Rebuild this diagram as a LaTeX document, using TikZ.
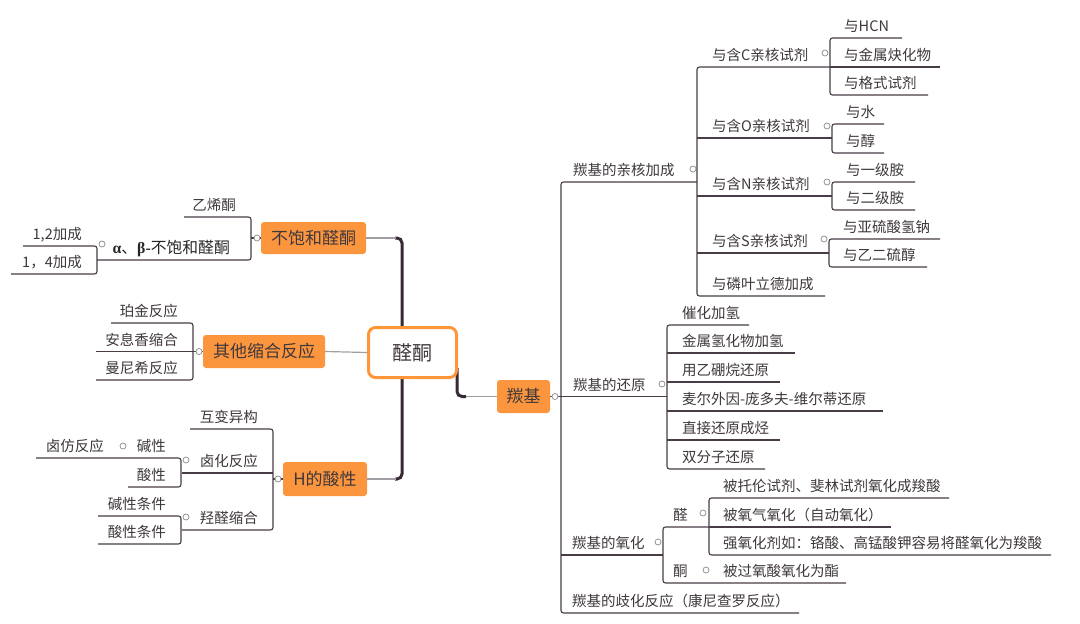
\documentclass[tikz,border=0pt]{standalone}
\usepackage{fontspec}
\setmainfont{Noto Sans CJK SC}
\newfontfamily\lserif{Liberation Serif}
\definecolor{org}{RGB}{252,150,62}
\definecolor{orgb}{RGB}{255,150,55}
\definecolor{txt}{RGB}{62,55,60}
\definecolor{lnc}{RGB}{72,60,70}
\definecolor{trk}{RGB}{55,42,52}
\definecolor{gry}{RGB}{160,158,162}
\definecolor{dotc}{RGB}{140,140,140}
\begin{document}
\begin{tikzpicture}[x=1pt,y=-1pt,
  lf/.style={font=\fontsize{14.5}{16}\selectfont, text=txt, inner sep=0pt},
  rl/.style={lf, anchor=base west},
  ll/.style={lf, anchor=base east},
  ln/.style={draw=lnc, line width=1.1pt, rounded corners=2.5pt},
  trunk/.style={draw=trk, line width=3pt, rounded corners=5pt},
  thin/.style={draw=gry, line width=1.2pt},
  mainbox/.style={fill=org, rounded corners=3pt, text=txt, font=\fontsize{17}{20}\selectfont, inner sep=0pt},
  dot/.style={circle, draw=dotc, fill=white, line width=0.7pt, minimum size=6pt, inner sep=0pt},
]
\useasboundingbox (0,0) rectangle (1080,624);

% trunks
\draw[trunk] (395,238) -- (402,238) -- (402,479) -- (395,479);
\draw[trunk] (457,368) -- (457,396.5) -- (466,396.5);

% main nodes
\node[draw=orgb, line width=3pt, fill=white, rounded corners=7pt, minimum width=88pt, minimum height=50pt, inner sep=0pt, font=\fontsize{20}{24}\selectfont, text=txt] (zq) at (412.5,352.5) {醛酮};
\node[mainbox, minimum width=105pt, minimum height=32pt] (bu) at (313.5,238) {不饱和醛酮};
\node[mainbox, minimum width=122pt, minimum height=33pt] (qt) at (264,351.5) {其他缩合反应};
\node[mainbox, minimum width=84pt, minimum height=34pt] (hs) at (325,479) {H的酸性};
\node[mainbox, minimum width=53pt, minimum height=33pt] (ts) at (523.5,396.5) {羰基};

\draw[thin] (bu.east) -- (396,238);
\draw[thin] (hs.east) -- (396,479);
\draw[thin] (qt.east) -- (zq.west);
\draw[thin] (466,396.5) -- (ts.west);

% ---------- left: 不饱和醛酮
\draw[ln] (bu.west) -- (251,238);
\draw[ln] (184,217) -- (251,217) -- (251,260) -- (97,260);
\draw[ln] (23,246) -- (97,246) -- (97,274) -- (11,274);
\node[ll] (yxt) at (236,210.5) {乙烯酮};
\node[ll, font=\fontsize{15.8}{18}\selectfont, text=black!85] (ab) at (230,253.5) {{\lserif\bfseries α}、{\lserif\bfseries β-}不饱和醛酮};
\node[ll] (a12) at (82,239.5) {1,2加成};
\node[ll] (a14) at (82,267.5) {1，4加成};
\node[dot] (d1) at (257,238) {};
\node[dot] (d2) at (102,244) {};

% ---------- left: 其他缩合反应
\draw[ln] (qt.west) -- (193,351.5);
\draw[ln] (111,323) -- (193,323) -- (193,380) -- (96,380);
\draw[ln] (96,351.5) -- (193,351.5);
\node[ll] (pj) at (178,316.5) {珀金反应};
\node[ll] (ax) at (178,345) {安息香缩合};
\node[ll] (mn) at (178,373.5) {曼尼希反应};
\node[dot] (d3) at (199,351.5) {};

% ---------- left: H的酸性
\draw[ln] (hs.west) -- (273,479);
\draw[ln] (190,429) -- (273,429) -- (273,530) -- (182,530);
\draw[ln] (182,473) -- (273,473);
\node[ll] (hb) at (258,422.5) {互变异构};
\node[ll] (lh) at (258,466.5) {卤化反应};
\node[ll] (qq) at (258,523.5) {羟醛缩合};
\node[dot] (d4) at (278,479) {};
% 卤化反应
\draw[ln] (36,458) -- (181,458) -- (181,487) -- (128,487);
\node[dot] (d5) at (186,460) {};
\node[ll] (jx) at (166,451.5) {碱性};
\node[ll] (sx) at (166,480.5) {酸性};
\node[dot] (d6) at (123,446) {};
\node[ll] (lf) at (104,451.5) {卤仿反应};
% 羟醛缩合
\draw[ln] (98,516) -- (181,516) -- (181,544) -- (98,544);
\node[dot] (d7) at (186,517) {};
\node[ll] (jt) at (166,509.5) {碱性条件};
\node[ll] (st) at (166,537.5) {酸性条件};

% ---------- right: 羰基
\draw[ln] (ts.east) -- (667,396.5);
\draw[ln] (697,182) -- (561,182) -- (561,613) -- (799,613);
\draw[ln] (561,555) -- (663,555);
\node[dot] (d8) at (555,396.5) {};
\node[rl] (qh) at (573,175.5) {羰基的亲核加成};
\node[rl] (hy) at (573,390.5) {羰基的还原};
\node[rl] (yh) at (572,548.5) {羰基的氧化};
\node[rl] (qhf) at (572,606.5) {羰基的歧化反应（康尼查罗反应）};
\node[dot] (d9) at (693,169) {};
\node[dot] (d10) at (662,384) {};
\node[dot] (d11) at (658,542) {};

% 亲核加成
\draw[ln] (830,67) -- (697,67) -- (697,296) -- (825,296);
\draw[ln] (697,138) -- (832,138);
\draw[ln] (697,196) -- (832,196);
\draw[ln] (697,253) -- (829,253);
\node[rl] (nc) at (712,60.5) {与含C亲核试剂};
\node[rl] (no) at (712,131.5) {与含O亲核试剂};
\node[rl] (nn) at (712,189.5) {与含N亲核试剂};
\node[rl] (ns) at (712,246.5) {与含S亲核试剂};
\node[rl] (np) at (712,289.5) {与磷叶立德加成};
\node[dot] (d12) at (825,53) {};
\node[dot] (d13) at (827,126) {};
\node[dot] (d14) at (827,182) {};
\node[dot] (d15) at (824,239) {};

% C
\draw[ln] (902,38) -- (830,38) -- (830,95) -- (928,95);
\draw[ln] (830,67) -- (940,67);
\node[rl] (c1) at (844,31.5) {与HCN};
\node[rl] (c2) at (844,60.5) {与金属炔化物};
\node[rl] (c3) at (844,88.5) {与格式试剂};
% O
\draw[ln] (884,124) -- (832,124) -- (832,153) -- (884,153);
\node[rl] (o1) at (846,117.5) {与水};
\node[rl] (o2) at (846,146.5) {与醇};
% N
\draw[ln] (915,182) -- (832,182) -- (832,210) -- (915,210);
\node[rl] (n1) at (846,175.5) {与一级胺};
\node[rl] (n2) at (846,203.5) {与二级胺};
% S
\draw[ln] (940,239) -- (829,239) -- (829,267) -- (927,267);
\node[rl] (s1) at (843,232.5) {与亚硫酸氢钠};
\node[rl] (s2) at (843,260.5) {与乙二硫醇};

% 还原
\draw[ln] (749,325) -- (667,325) -- (667,469) -- (765,469);
\draw[ln] (667,353) -- (795,353);
\draw[ln] (667,382) -- (780,382);
\draw[ln] (667,411) -- (883,411);
\draw[ln] (667,440) -- (780,440);
\node[rl] (r1) at (682,318.5) {催化加氢};
\node[rl] (r2) at (682,346.5) {金属氢化物加氢};
\node[rl] (r3) at (682,375.5) {用乙硼烷还原};
\node[rl] (r4) at (682,404.5) {麦尔外因-庞多夫-维尔蒂还原};
\node[rl] (r5) at (682,433.5) {直接还原成烃};
\node[rl] (r6) at (682,462.5) {双分子还原};

% 氧化
\draw[ln] (709,527) -- (663,527) -- (663,583) -- (846,583);
\draw[ln] (949,498) -- (709,498) -- (709,555) -- (1051,555);
\draw[ln] (709,527) -- (891,527);
\node[rl] (ald) at (673,520.5) {醛};
\node[rl] (ket) at (673,576.5) {酮};
\node[dot] (d16) at (703,513) {};
\node[dot] (d17) at (706,570) {};
\node[rl] (x1) at (723,491.5) {被托伦试剂、斐林试剂氧化成羧酸};
\node[rl] (x2) at (723,520.5) {被氧气氧化（自动氧化）};
\node[rl] (x3) at (723,548.5) {强氧化剂如：铬酸、高锰酸钾容易将醛氧化为羧酸};
\node[rl] (x4) at (723,576.5) {被过氧酸氧化为酯};
\end{tikzpicture}
\end{document}
